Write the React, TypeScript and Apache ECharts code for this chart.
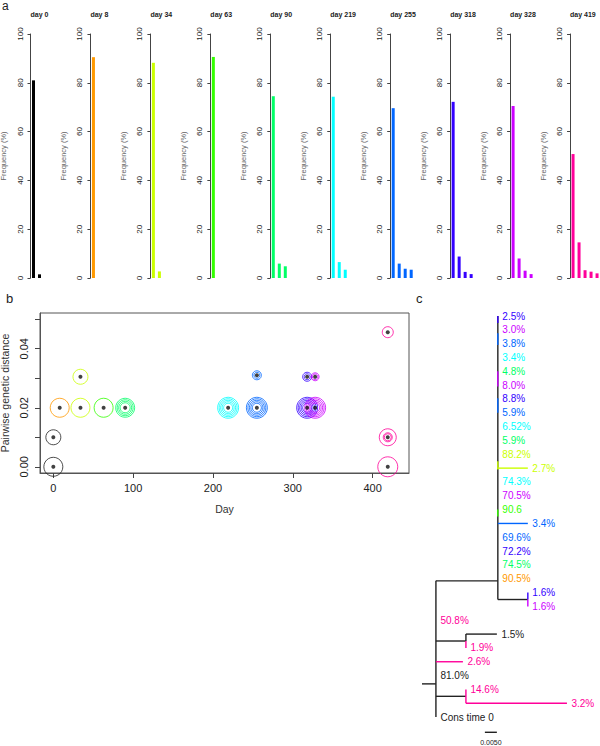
import React, { useEffect, useRef } from 'react';
import * as echarts from 'echarts';

// ---------- Panel a data ----------
const DAY_NUMBERS = [0, 8, 34, 63, 90, 219, 255, 318, 328, 419];
const DAY_TITLES = ['day 0', 'day 8', 'day 34', 'day 63', 'day 90', 'day 219', 'day 255', 'day 318', 'day 328', 'day 419'];
const DAY_COLORS = ['#000000', '#FF9900', '#CCFF00', '#33FF00', '#00FF66', '#00FFFF', '#0066FF', '#3300FF', '#CC00FF', '#FF0099'];
const FREQ_DAY_0 = [81.0, 1.5];
const FREQ_DAY_8 = [90.5];
const FREQ_DAY_34 = [88.2, 2.7];
const FREQ_DAY_63 = [90.6];
const FREQ_DAY_90 = [74.5, 5.9, 4.8];
const FREQ_DAY_219 = [74.3, 6.52, 3.4];
const FREQ_DAY_255 = [69.6, 5.9, 3.8, 3.4];
const FREQ_DAY_318 = [72.2, 8.8, 2.5, 1.6];
const FREQ_DAY_328 = [70.5, 8.0, 3.0, 1.6];
const FREQ_DAY_419 = [50.8, 14.6, 3.2, 2.6, 1.9];
const FREQUENCIES = [FREQ_DAY_0, FREQ_DAY_8, FREQ_DAY_34, FREQ_DAY_63, FREQ_DAY_90, FREQ_DAY_219, FREQ_DAY_255, FREQ_DAY_318, FREQ_DAY_328, FREQ_DAY_419];
const BAR_SLOTS = ['1', '2', '3', '4', '5'];

// ---------- Panel b data ----------
const POINT_DAY = [0, 0, 8, 34, 34, 63, 90, 219, 255, 255, 318, 318, 328, 328, 419, 419, 419];
const POINT_DIST = [0, 0.01, 0.02, 0.0305, 0.02, 0.02, 0.02, 0.02, 0.02, 0.031, 0.02, 0.0305, 0.02, 0.0305, 0.0456, 0.01, 0];
const DAY_TICKS = [0, 100, 200, 300, 400];
const DIST_TICKS = [0, 0.01, 0.02, 0.03, 0.04, 0.05];
const DIST_LABELS = [0, 0.02, 0.04];

// ---------- Panel c data (tree: x = genetic distance, y = row) ----------
const K = -1; // black
const XC = 0.0258;
const XP = 0.0383;
const XS = 0.0125;
const TREE_EDGES: number[][] = [
  [-0.0058, 26.6, 0, 26.6, K],
  [0, 19.15, 0, 29, K],
  [0, 19.15, XC, 19.15, K],
  [XC, 0, XC, 20.5, K],
  [XC, 0, XC, 0.5, 7],
  [XC, 1.25, XC, 2.1, 6],
  [XC, 4.0, XC, 5.1, 8],
  [XC, 5.95, XC, 7.0, 6],
  [XC, 10.5, XC, 11.1, 2],
  [XC, 14.0, XC, 14.5, 3],
  [XC, 11, XP, 11, 2],
  [XC, 15, XP, 15, 6],
  [XC, 20.5, XP, 20.5, K],
  [XP, 20, XP, 20.5, 7],
  [XP, 20.5, XP, 21, 8],
  [0, 23.5, XS, 23.5, K],
  [XS, 23, XS, 23.5, K],
  [XS, 23.5, XS, 24, 9],
  [XS, 23, 0.0254, 23, K],
  [0, 25, 0.01125, 25, 9],
  [0, 27.5, XS, 27.5, K],
  [XS, 27, XS, 28, 9],
  [XS, 28, 0.0546, 28, 9],
  [0.0204, 30.1, 0.0254, 30.1, K],
];
const TREE_LABELS: [number, number, string, number][] = [
  [XC, 0, '2.5%', 7],
  [XC, 1, '3.0%', 8],
  [XC, 2, '3.8%', 6],
  [XC, 3, '3.4%', 5],
  [XC, 4, '4.8%', 4],
  [XC, 5, '8.0%', 8],
  [XC, 6, '8.8%', 7],
  [XC, 7, '5.9%', 6],
  [XC, 8, '6.52%', 5],
  [XC, 9, '5.9%', 4],
  [XC, 10, '88.2%', 2],
  [XP, 11, '2.7%', 2],
  [XC, 12, '74.3%', 5],
  [XC, 13, '70.5%', 8],
  [XC, 14, '90.6', 3],
  [XP, 15, '3.4%', 6],
  [XC, 16, '69.6%', 6],
  [XC, 17, '72.2%', 7],
  [XC, 18, '74.5%', 4],
  [XC, 19, '90.5%', 1],
  [XP, 20, '1.6%', 7],
  [XP, 21, '1.6%', 8],
  [0, 22, '50.8%', 9],
  [0.0254, 23, '1.5%', K],
  [XS, 24, '1.9%', 9],
  [0.01125, 25, '2.6%', 9],
  [0, 26, '81.0%', K],
  [XS, 27, '14.6%', 9],
  [0.0546, 28, '3.2%', 9],
  [0, 29, 'Cons time 0', K],
];
const SCALE_LABEL: [number, number, string] = [0.0229, 30.85, '0.0050'];

// ---------- styles ----------
const FONT = '"Liberation Sans", Arial, Helvetica, sans-serif';
const RING_RADII: number[][] = [
  [9.5], [7.5], [9.5], [7.5], [9.5], [9.5],
  [9.5, 8, 6.5, 5],
  [10.5, 9, 7.5, 6, 4.5],
  [10.5, 9, 7.5, 6, 4.5],
  [4.5, 3],
  [10.5, 9, 7.5, 6, 4.5],
  [4.5, 3],
  [10.5, 9, 7.5, 6, 4.5],
  [4, 2.8],
  [5.5],
  [8.5, 4.5, 3.5],
  [10],
];
const colorOf = (k: number) => (k < 0 ? '#222222' : DAY_COLORS[k] === '#000000' ? '#222222' : DAY_COLORS[k]);
const axisX = (i: number) => 30.5 + 59.95 * i;

function buildOption(): any {
  const grid: any[] = [];
  const xAxis: any[] = [];
  const yAxis: any[] = [];
  const series: any[] = [];
  const graphic: any[] = [];

  FREQUENCIES.forEach((vals, i) => {
    grid.push({ left: axisX(i), top: 34, width: 30, height: 244, containLabel: false, outerBoundsMode: 'none' });
    xAxis.push({ type: 'category', gridIndex: i, data: BAR_SLOTS, show: false });
    yAxis.push({
      type: 'value', gridIndex: i, min: 0, max: 100, interval: 20,
      axisLine: { show: true, onZero: false, lineStyle: { color: '#444', width: 1 } },
      axisTick: { show: true, length: 3, lineStyle: { color: '#444' } },
      axisLabel: { rotate: 90, fontSize: 8, margin: 6.5, color: '#222', fontFamily: FONT },
      splitLine: { show: false },
      name: 'Frequency (%)', nameLocation: 'middle', nameRotate: 90, nameGap: 23,
      nameTextStyle: { fontSize: 7.5, color: '#666', fontFamily: FONT },
    });
    series.push({
      type: 'bar', xAxisIndex: i, yAxisIndex: i, data: vals, barWidth: 3,
      itemStyle: { color: DAY_COLORS[i] }, silent: true,
    });
    graphic.push({
      type: 'text', left: axisX(i), top: 11,
      style: { text: DAY_TITLES[i], fontSize: 7, fontWeight: 'bold', fill: '#222', fontFamily: FONT, width: 28, textAlign: 'center' },
    });
  });

  // Panel b
  grid.push({ left: 40, top: 313, width: 369, height: 160, show: true, borderColor: '#555', borderWidth: 1, backgroundColor: 'rgba(0,0,0,0)', containLabel: false, outerBoundsMode: 'none' });
  xAxis.push({
    type: 'value', gridIndex: 10, min: -16.7, max: 445.6, position: 'bottom',
    axisLine: { show: true, onZero: false, lineStyle: { color: '#555' } },
    axisTick: { show: true, inside: false, customValues: DAY_TICKS, length: 5, lineStyle: { color: '#444' } },
    axisLabel: { customValues: DAY_TICKS, fontSize: 11, margin: 9, color: '#222', fontFamily: FONT },
    splitLine: { show: false },
    name: 'Day', nameLocation: 'middle', nameGap: 30,
    nameTextStyle: { fontSize: 10.5, color: '#333', fontFamily: FONT },
  });
  yAxis.push({
    type: 'value', gridIndex: 10, min: -0.0021, max: 0.0521, position: 'left',
    axisLine: { show: true, onZero: false, lineStyle: { color: '#555' } },
    axisTick: { show: true, inside: false, customValues: DIST_TICKS, length: 5, lineStyle: { color: '#444' } },
    axisLabel: { customValues: DIST_LABELS, rotate: 90, fontSize: 11, margin: 11, color: '#222', fontFamily: FONT, formatter: (v: number) => v.toFixed(2) },
    splitLine: { show: false },
    name: 'Pairwise genetic distance', nameLocation: 'middle', nameRotate: 90, nameGap: 29,
    nameTextStyle: { fontSize: 10.5, color: '#333', fontFamily: FONT },
  });
  const ringData: any[] = [];
  POINT_DAY.forEach((d, p) => {
    const ci = DAY_NUMBERS.indexOf(d);
    const col = colorOf(ci);
    RING_RADII[p].forEach((r) => {
      ringData.push({
        value: [d, POINT_DIST[p]], symbolSize: 2 * r,
        itemStyle: { color: 'rgba(0,0,0,0)', borderColor: col, borderWidth: 1 },
      });
    });
  });
  series.push({ type: 'scatter', xAxisIndex: 10, yAxisIndex: 10, symbol: 'circle', data: ringData, silent: true });
  series.push({
    type: 'scatter', xAxisIndex: 10, yAxisIndex: 10, symbol: 'circle', symbolSize: 4,
    itemStyle: { color: '#111' }, data: POINT_DAY.map((d, p) => [d, POINT_DIST[p]]), silent: true,
  });

  // Panel c (tree)
  grid.push({ left: 422, top: 316 - 13.83, width: 178, height: 13.83 * 32, containLabel: false, outerBoundsMode: 'none' });
  xAxis.push({ type: 'value', gridIndex: 11, min: -0.0058, max: -0.0058 + 178 / 2400, show: false });
  yAxis.push({ type: 'value', gridIndex: 11, min: -1, max: 31, inverse: true, show: false });
  series.push({
    type: 'custom', xAxisIndex: 11, yAxisIndex: 11, silent: true, clip: false,
    data: TREE_EDGES.map((e) => [e[0], e[1], e[2], e[3]]),
    renderItem: (params: any, api: any) => {
      const e = TREE_EDGES[params.dataIndex];
      const p0 = api.coord([e[0], e[1]]);
      const p1 = api.coord([e[2], e[3]]);
      return {
        type: 'line',
        shape: { x1: p0[0], y1: p0[1], x2: p1[0], y2: p1[1] },
        style: { stroke: colorOf(e[4]), lineWidth: 1.4 },
      };
    },
  });
  series.push({
    type: 'custom', xAxisIndex: 11, yAxisIndex: 11, silent: true, clip: false,
    data: TREE_LABELS.map((l) => [l[0], l[1]]),
    renderItem: (params: any, api: any) => {
      const l = TREE_LABELS[params.dataIndex];
      const p = api.coord([l[0], l[1]]);
      return {
        type: 'text',
        x: p[0] + 4.5, y: p[1],
        style: { text: l[2], fill: colorOf(l[3]), fontSize: 10, fontFamily: FONT, align: 'left', verticalAlign: 'middle' },
      };
    },
  });
  series.push({
    type: 'custom', xAxisIndex: 11, yAxisIndex: 11, silent: true, clip: false,
    data: [[SCALE_LABEL[0], SCALE_LABEL[1]]],
    renderItem: (params: any, api: any) => {
      const p = api.coord([SCALE_LABEL[0], SCALE_LABEL[1]]);
      return {
        type: 'text', x: p[0], y: p[1],
        style: { text: SCALE_LABEL[2], fill: '#222', fontSize: 7, fontFamily: FONT, align: 'center', verticalAlign: 'middle' },
      };
    },
  });

  // panel letters
  graphic.push({ type: 'text', left: 2, top: 0, style: { text: 'a', fontSize: 12, fill: '#222', fontFamily: FONT } });
  graphic.push({ type: 'text', left: 6, top: 292, style: { text: 'b', fontSize: 13, fill: '#222', fontFamily: FONT } });
  graphic.push({ type: 'text', left: 416, top: 292, style: { text: 'c', fontSize: 13, fill: '#222', fontFamily: FONT } });

  return { animation: false, backgroundColor: '#ffffff', grid, xAxis, yAxis, series, graphic };
}

export default function App() {
  const ref = useRef<HTMLDivElement>(null);
  useEffect(() => {
    document.body.style.margin = '0';
    if (!ref.current) return;
    const chart = echarts.init(ref.current, undefined, { renderer: 'svg' });
    chart.setOption(buildOption());
    return () => chart.dispose();
  }, []);
  return <div ref={ref} style={{ position: 'absolute', left: 0, top: 0, width: 600, height: 746 }} />;
}
